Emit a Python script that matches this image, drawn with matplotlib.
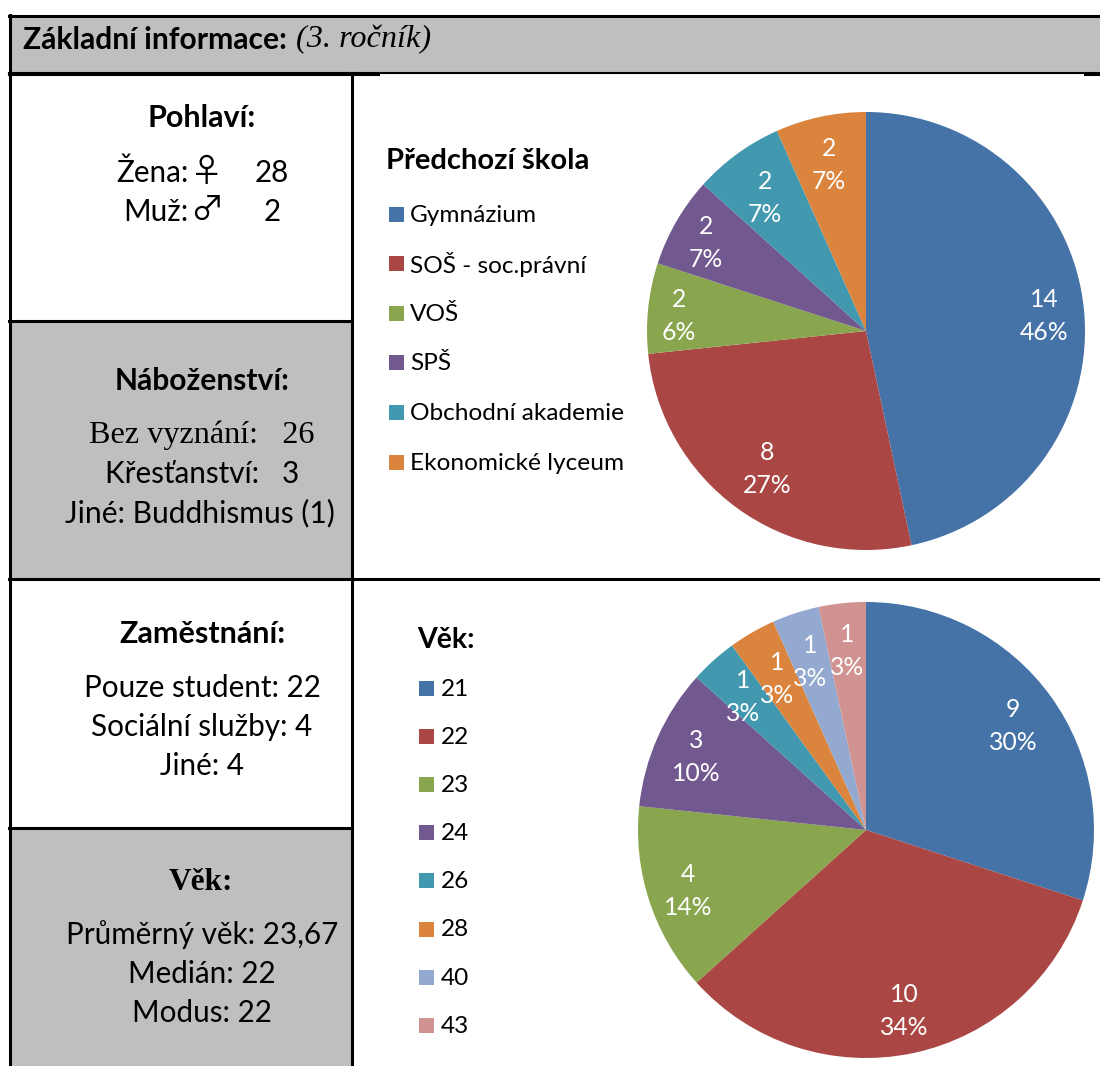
import matplotlib
matplotlib.use("Agg")
import matplotlib.pyplot as plt
from matplotlib.patches import Rectangle

W, H = 1100, 1066
SANS = ["Lato", "DejaVu Sans"]
SERIF = ["Liberation Serif", "DejaVu Serif"]
SYMBOL = ["Noto Sans CJK JP", "DejaVu Sans"]

# predchozi skola
skola_nazvy = ["Gymnázium", "SOŠ - soc.právní", "VOŠ", "SPŠ", "Obchodní akademie", "Ekonomické lyceum"]
skola_pocty = [14, 8, 2, 2, 2, 2]
skola_procenta = ["46%", "27%", "6%", "7%", "7%", "7%"]

# vek
vek_nazvy = ["21", "22", "23", "24", "26", "28", "40", "43"]
vek_pocty = [9, 10, 4, 3, 1, 1, 1, 1]
vek_procenta = ["30%", "34%", "14%", "10%", "3%", "3%", "3%", "3%"]

barvy = ["#4572A7", "#AA4643", "#89A54E", "#71588F", "#4198AF", "#DB843D", "#93A9CF", "#D19392"]
seda = "#BFBFBF"

# kde sedi popisky v kolacich (pixely obrazku)
skola_popisky = [(1044, 316), (767, 469), (679, 316), (706, 243), (765, 198), (829, 165)]
vek_popisky = [(1013, 726), (904, 1011), (688, 891), (696, 757), (743, 697), (777, 679), (810, 662), (847, 651)]

plt.rcParams["font.family"] = SANS
fig = plt.figure(figsize=(W / 100, H / 100), dpi=100)

# platno v pixelech, y jde dolu
ax = fig.add_axes([0, 0, 1, 1])
ax.set_xlim(0, W)
ax.set_ylim(H, 0)
ax.axis("off")

ax.add_patch(Rectangle((9, 15), 1091, 58, color=seda, lw=0))
ax.add_patch(Rectangle((9, 321), 343, 258, color=seda, lw=0))
ax.add_patch(Rectangle((9, 828), 343, 238, color=seda, lw=0))

lw = 2.2
ax.plot([9, 1100], [15.5, 15.5], "k", lw=lw)
ax.plot([9, 1100], [73, 73], "k", lw=1.5)
ax.plot([9, 378], [73.5, 73.5], "k", lw=lw)
ax.plot([1085, 1100], [73.5, 73.5], "k", lw=lw)
ax.plot([9.5, 9.5], [15, H], "k", lw=lw)
ax.plot([352, 352], [73, H], "k", lw=lw)
ax.plot([9, 352], [321, 321], "k", lw=lw)
ax.plot([9, 1100], [579, 579], "k", lw=lw)
ax.plot([9, 352], [828, 828], "k", lw=lw)


def txt(x, y, s, size=21.3, ha="center", **kw):
    ax.text(x, y, s, fontsize=size, ha=ha, va="center", color="black", **kw)


ax.text(23, 40, "Základní informace:", fontsize=21.6, fontweight="bold", va="center")
ax.text(296, 40, "(3. ročník)", fontsize=23.2, style="italic", family=SERIF, va="center")

txt(202, 118, "Pohlaví:", fontweight="bold", size=22)
txt(152, 173, "Žena:")
txt(207, 172, "♀", size=24, family=SYMBOL)
txt(272, 173, "28")
txt(156, 212, "Muž:")
txt(207, 210, "♂", size=24, family=SYMBOL)
txt(272, 212, "2")

txt(202, 381, "Náboženství:", fontweight="bold", size=21.6)
txt(202, 435, "Bez vyznání:   26", family=SERIF, size=23.2)
txt(202, 474, "Křesťanství:   3")
txt(200, 513, "Jiné: Buddhismus (1)", size=21.6)

txt(202, 634, "Zaměstnání:", fontweight="bold", size=22)
txt(202, 688, "Pouze student: 22")
txt(202, 727, "Sociální služby: 4")
txt(202, 766, "Jiné: 4")

txt(201, 882, "Věk:", fontweight="bold", size=22.5, family=SERIF)
txt(202, 935, "Průměrný věk: 23,67")
txt(202, 974, "Medián: 22")
txt(202, 1013, "Modus: 22")

# legendy
txt(386, 161, "Předchozí škola", ha="left", fontweight="bold", size=21)
for i, n in enumerate(skola_nazvy):
    y = 214 + i * 49.6
    ax.add_patch(Rectangle((389, y - 7.5), 15, 15, color=barvy[i], lw=0))
    txt(410, y + 1, n, ha="left", size=17.6)

txt(417, 640, "Věk:", ha="left", fontweight="bold", size=20.5)
for i, n in enumerate(vek_nazvy):
    y = 688 + i * 48.2
    ax.add_patch(Rectangle((419, y - 7.5), 15, 15, color=barvy[i], lw=0))
    txt(441, y + 1, n, ha="left", size=17.6)


def kolac(cx, cy, r, pocty, procenta, popisky):
    a = fig.add_axes([(cx - r) / W, 1 - (cy + r) / H, 2 * r / W, 2 * r / H])
    labels = [f"{p}\n{q}" for p, q in zip(pocty, procenta)]
    _, texty = a.pie(pocty, colors=barvy, startangle=90, counterclock=False, radius=1,
                     labels=labels, textprops={"color": "white", "fontsize": 17.8, "linespacing": 1.55},
                     wedgeprops={"linewidth": 0})
    for t, (x, y) in zip(texty, popisky):
        t.set_position(((x - cx) / r, (cy - y) / r))
        t.set_ha("center")
        t.set_va("center")
    a.set_xlim(-1, 1)
    a.set_ylim(-1, 1)


kolac(866, 331, 219, skola_pocty, skola_procenta, skola_popisky)
kolac(866, 830, 228, vek_pocty, vek_procenta, vek_popisky)

fig.savefig("out.png", dpi=100)
